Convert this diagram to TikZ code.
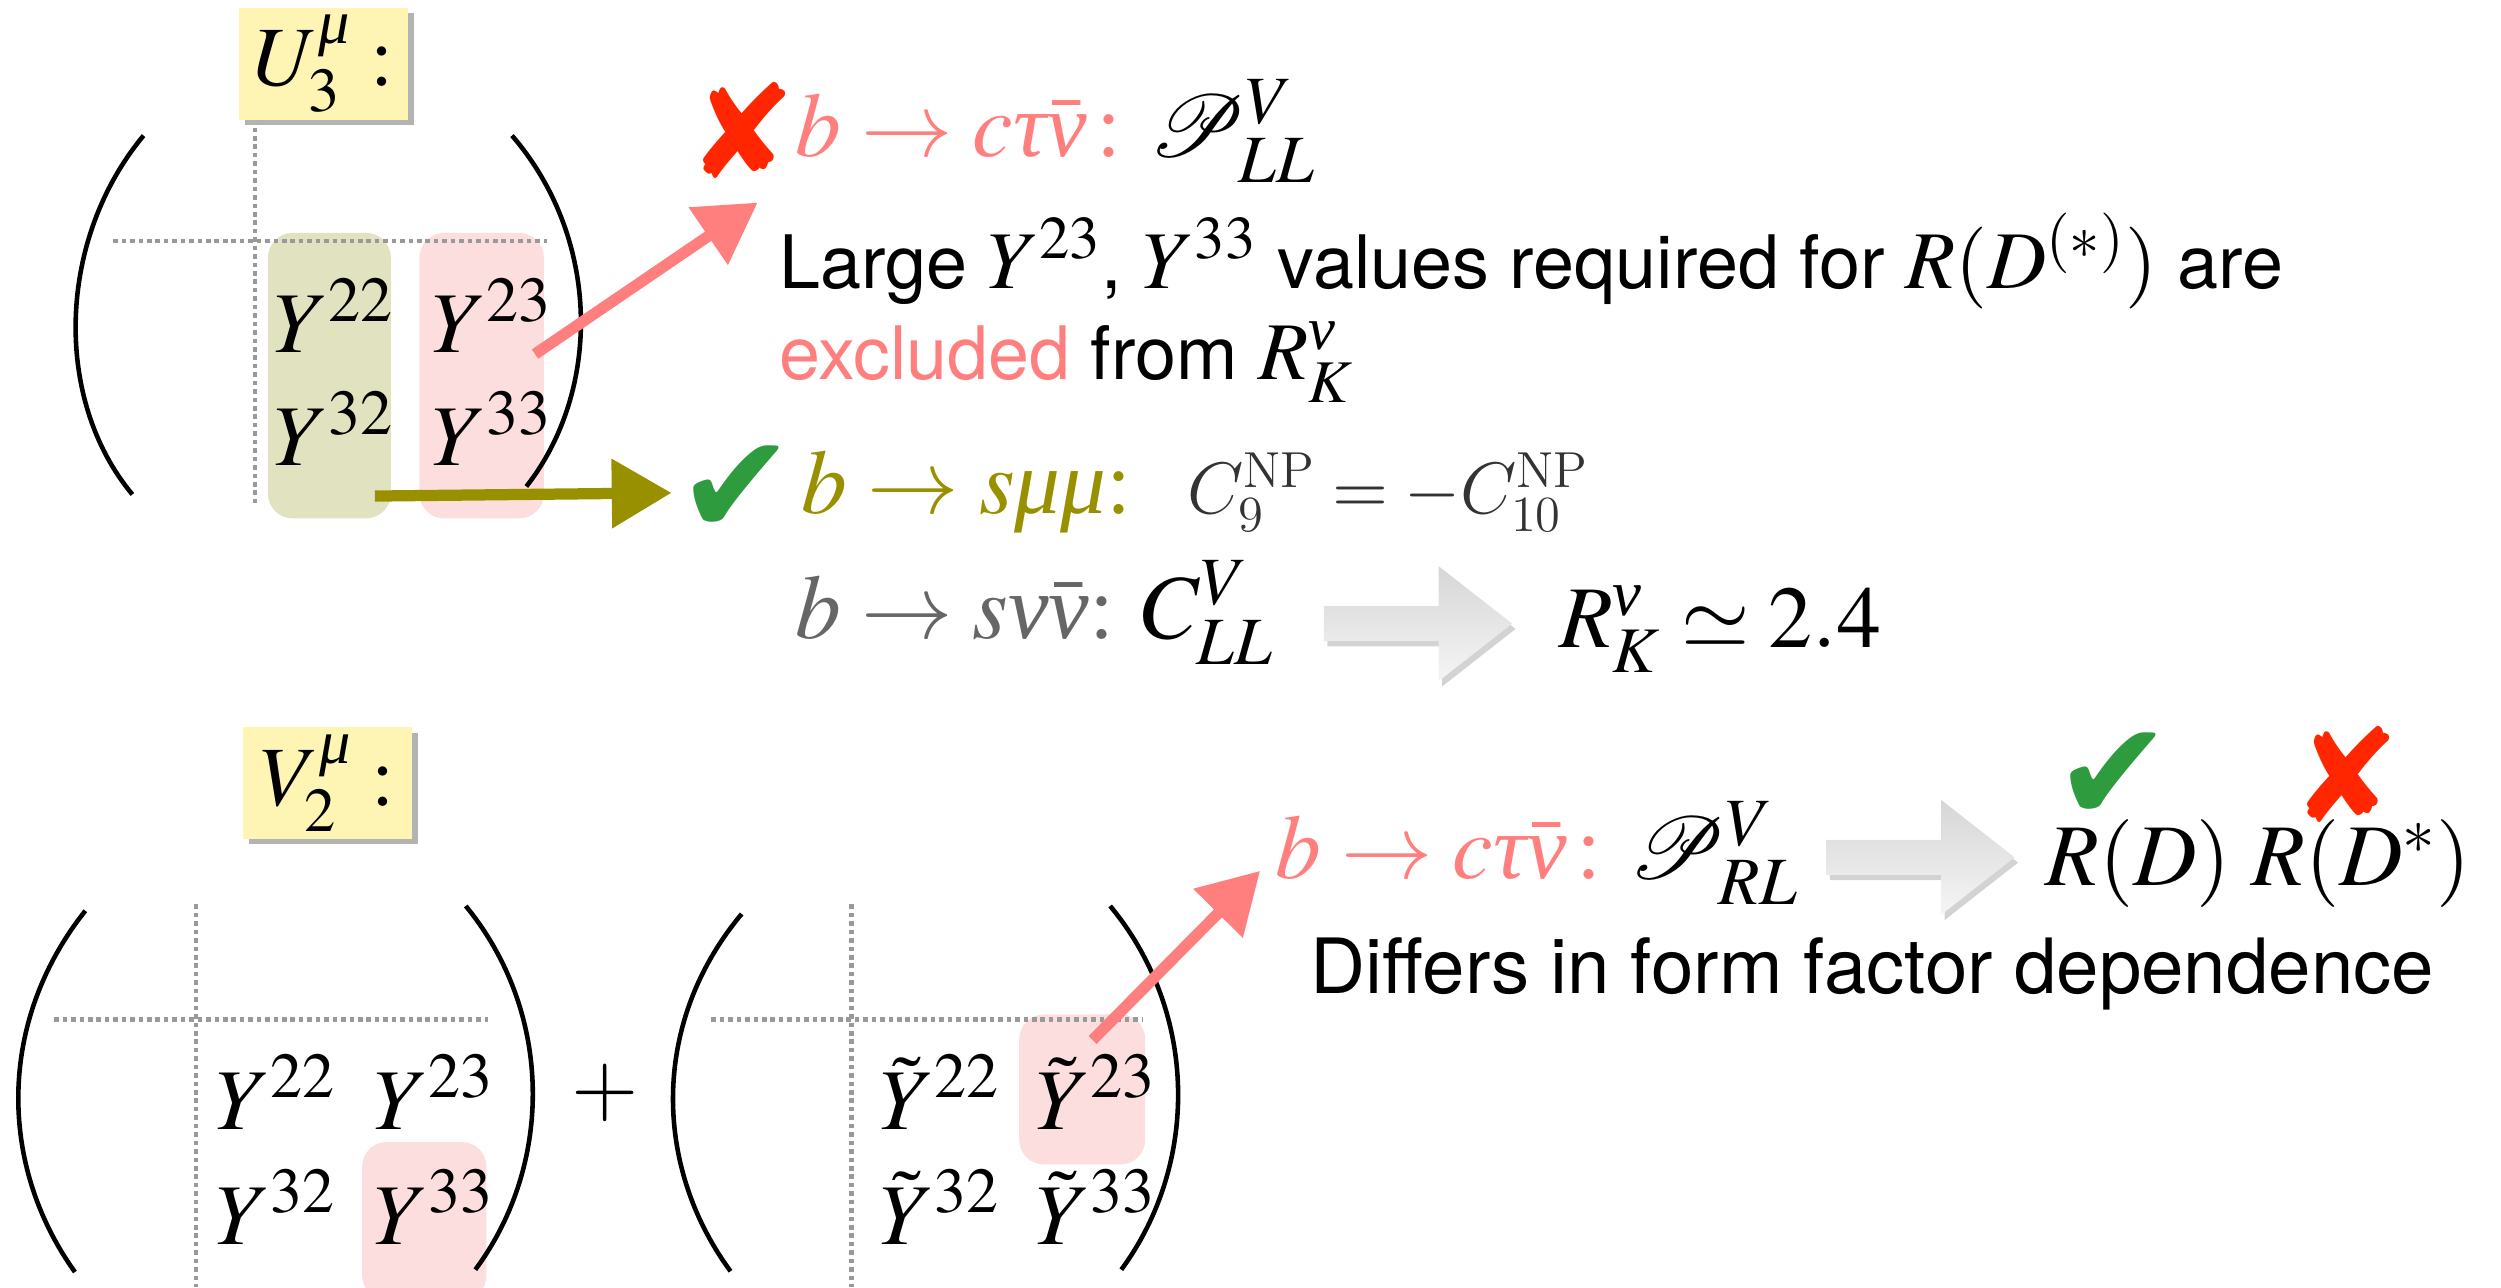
\documentclass[tikz,border=0pt]{standalone}
\usepackage{amsmath}
\usepackage{mathptmx}
\usepackage{mathrsfs}
\usepackage[no-math]{fontspec}
\newfontfamily\helv[Scale=0.9]{TeX Gyre Heros}
\newfontfamily\dejavu{DejaVu Sans}
\newfontfamily\libser{Liberation Serif}
\usepackage{tikz}
\usetikzlibrary{arrows.meta, calc, positioning, shadows}
\DeclareMathAlphabet{\cmit}{OML}{cmm}{m}{it}
\DeclareMathAlphabet{\cmrm}{OT1}{cmr}{m}{n}
% italic greek letters as in the slide
\newcommand{\gtau}{\text{\libser\itshape τ}}
\newcommand{\gnu}{\text{\libser\itshape ν}}
\newcommand{\gmu}{\text{\libser\itshape μ}}
\definecolor{salmon}{HTML}{FF7F7F}
\definecolor{olivetxt}{HTML}{999000}
\definecolor{olivebg}{HTML}{E1E3C0}
\definecolor{pinkbg}{HTML}{FDDEDE}
\definecolor{crossred}{HTML}{FF2600}
\definecolor{tickgreen}{HTML}{2E9B3F}
\definecolor{notepad}{HTML}{FEF5B5}
\definecolor{dotgray}{HTML}{999999}
\definecolor{textgray}{HTML}{666666}

\begin{document}
\begin{tikzpicture}[x=0.01595cm, y=-0.01595cm,
  entry/.style={anchor=base west, inner sep=0pt, font=\fontsize{24.6}{28}\selectfont},
  bigmath/.style={anchor=base west, inner sep=0pt, font=\fontsize{26}{30}\selectfont},
  maintext/.style={anchor=base west, inner sep=0pt, font=\helv\fontsize{23.3}{27}\selectfont},
  notebox/.style={fill=notepad, minimum width=1.69cm, minimum height=1.117cm, inner sep=0pt,
    font=\fontsize{24}{28}\selectfont, drop shadow={shadow xshift=1.5pt, shadow yshift=-1.5pt, opacity=0.6}},
  dotline/.style={dotgray, line width=1.3pt, dash pattern=on 1.3pt off 1.1pt},
  paren/.style={line width=1.3pt},
  smear/.style={rounded corners=7pt},
  sketch/.style={line width=3.2pt, -{Triangle[length=17pt, width=19pt]}},
  cross/.style={font=\dejavu\fontsize{37}{37}\selectfont, text=crossred, inner sep=0pt},
  tick/.style={font=\dejavu\fontsize{40}{40}\selectfont, text=tickgreen, inner sep=0pt},
  bigarrow/.pic={
    \path[top color=gray!32, bottom color=gray!8,
      drop shadow={shadow xshift=1pt, shadow yshift=-1.5pt, opacity=0.35}]
      (0,-11) -- (72,-11) -- (72,-36) -- (118,0) -- (72,36) -- (72,11) -- (0,11) -- cycle;
  }]
  \useasboundingbox (0,0) rectangle (1568,807);

  % U_3 block: smears, grid and brackets
  \fill[olivebg, smear] (168,146) rectangle (245,325);
  \fill[pinkbg, smear] (263,146) rectangle (341,325);
  \draw[dotline] (160,80) -- (160,316);
  \draw[dotline] (71,151) -- (343,151);
  \draw[paren] (90,85) .. controls (36,150) and (33,250) .. (83,310);
  \draw[paren] (321,85) .. controls (377,150) and (377,245) .. (330,305);
  \node[notebox] (ubox) at (203,40) {$U^{\gmu}_{3}\;{:}$};
  \node[entry] (u22) at (171,221) {$Y^{22}$};
  \node[entry] (u23) at (270,221) {$Y^{23}$};
  \node[entry] (u32) at (171,292) {$Y^{32}$};
  \node[entry] (u33) at (270,292) {$Y^{33}$};

  % V_2 block: two matrices
  \fill[pinkbg, smear] (227,716) rectangle (305,815);
  \fill[pinkbg, smear] (639,636) rectangle (718,730);
  \draw[dotline] (123,567) -- (123,807);
  \draw[dotline] (34,639) -- (306,639);
  \draw[dotline] (534,567) -- (534,807);
  \draw[dotline] (446,639) -- (716,639);
  \draw[paren] (53.5,571) .. controls (-1.4,640) and (-1.4,730) .. (47,797.5);
  \draw[paren] (292,568) .. controls (347,635) and (347,730) .. (298,796);
  \draw[paren] (465,573) .. controls (408.8,640) and (408.8,730) .. (458,797);
  \draw[paren] (696,568) .. controls (751.6,635) and (751.6,730) .. (703,796);
  \node[notebox] (vbox) at (205.5,491) {$V^{\gmu}_{2}\;{:}$};
  \node[entry] (v22) at (135,708) {$Y^{22}$};
  \node[entry] (v23) at (234,708) {$Y^{23}$};
  \node[entry] (v32) at (135,780) {$Y^{32}$};
  \node[entry] (v33) at (234,780) {$Y^{33}$};
  \node[entry, anchor=center] (plus) at (379.5,685) {$+$};
  \node[entry] (w22) at (551,708) {$\tilde{Y}^{22}$};
  \node[entry] (w23) at (649,708) {$\tilde{Y}^{23}$};
  \node[entry] (w32) at (551,780) {$\tilde{Y}^{32}$};
  \node[entry] (w33) at (649,780) {$\tilde{Y}^{33}$};

  % right hand text
  \node[cross] (no1) at (465,81.5) {✘};
  \node[bigmath] (ctau1) at (498,98) {\textcolor{salmon}{$b\to c\gtau\bar{\gnu}\,{:}$} $\mathscr{P}^{V}_{LL}$};
  \node[maintext] (large) at (488,180.6) {Large $Y^{23}$, $Y^{33}$ values required for $R(D^{(*)})$ are};
  \node[maintext] (excl) at (488,238) {\textcolor{salmon}{excluded} from $R^{\gnu}_{K}$};
  \node[tick] (ok1) at (461.5,307) {✔};
  \node[bigmath] (smumu) at (502,322) {\textcolor{olivetxt}{$b\to s\gmu\gmu{:}$}\ \ {\fontsize{20.5}{24}\selectfont\color{black!80}$\cmit{C}^{\cmrm{NP}}_{\cmrm{9}} = -\cmit{C}^{\cmrm{NP}}_{\cmrm{10}}$}};
  \node[bigmath] (snunu) at (498,400) {\textcolor{textgray}{$b\to s\gnu\bar{\gnu}{:}$}\ $C^{V}_{LL}$};
  \node[bigmath, font=\fontsize{25}{30}\selectfont] (rk) at (977,406) {$R^{\gnu}_{K}\simeq 2.4$};
  \node[bigmath] (ctau2) at (799,550.6) {\textcolor{salmon}{$b\to c\gtau\bar{\gnu}\,{:}$} $\mathscr{P}^{V}_{RL}$};
  \node[bigmath, font=\fontsize{25}{30}\selectfont] (rd) at (1282,555) {$R(D)$};
  \node[bigmath, font=\fontsize{25}{30}\selectfont] (rdstar) at (1411,555) {$R(D^{*})$};
  \node[tick] (ok2) at (1325,487) {✔};
  \node[cross] (no2) at (1470.5,485.5) {✘};
  \node[maintext, font=\helv\fontsize{24.1}{28}\selectfont] (diff) at (821,623) {Differs in form factor dependence};

  % big grey arrows
  \pic at (830,391) {bigarrow};
  \pic at (1145,537.5) {bigarrow};

  % hand drawn arrows
  \coordinate (hit1) at (475,127);
  \coordinate (hit2) at (421,309);
  \coordinate (src2) at (235,311);
  \coordinate (src3) at (685,652);
  \coordinate (hit3) at (790,546);
  \draw[sketch, salmon] ($(u23.base east)+(-11,1)$) -- (hit1);
  \draw[sketch, olivetxt] (src2) -- (hit2);
  \draw[sketch, salmon] (src3) -- (hit3);
\end{tikzpicture}
\end{document}
